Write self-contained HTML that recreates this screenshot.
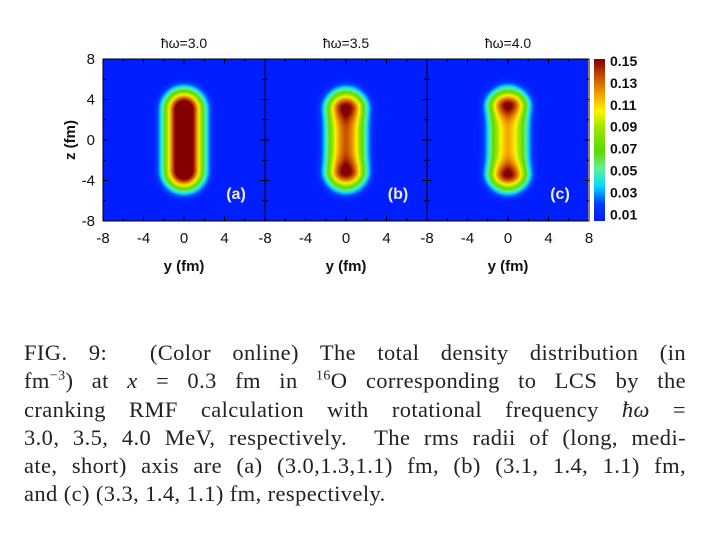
<!DOCTYPE html>
<html><head><meta charset="utf-8"><style>
html,body{margin:0;padding:0;background:#fff;width:720px;height:540px;overflow:hidden;position:relative}
svg{position:absolute;left:0;top:0}
canvas{position:absolute}
.cap{position:absolute;left:24px;width:662px;font-family:"Liberation Serif",serif;font-size:22.5px;letter-spacing:0.4px;color:#222;line-height:28.3px;top:339px}
.cap div{text-align:justify;text-align-last:justify;white-space:nowrap;height:28.3px}
.cap div.last{text-align-last:left}
</style></head><body>
<canvas id="cv0" width="162" height="162" style="left:103px;top:59px"></canvas>
<canvas id="cv1" width="162" height="162" style="left:265px;top:59px"></canvas>
<canvas id="cv2" width="161" height="162" style="left:427px;top:59px"></canvas>
<canvas id="cbar" width="11" height="162" style="left:594px;top:59px"></canvas>
<svg id="svg" width="720" height="540"></svg>
<div class="cap">
<div>FIG. 9: &nbsp;(Color online) The total density distribution (in</div>
<div>fm<sup style="font-size:14px;line-height:0">−3</sup>) at <i>x</i> = 0.3 fm in <sup style="font-size:14px;line-height:0">16</sup>O corresponding to LCS by the</div>
<div>cranking RMF calculation with rotational frequency <i>ħω</i> =</div>
<div>3.0, 3.5, 4.0 MeV, respectively. &nbsp;The rms radii of (long, medi-</div>
<div>ate, short) axis are (a) (3.0,1.3,1.1) fm, (b) (3.1, 1.4, 1.1) fm,</div>
<div class="last">and (c) (3.3, 1.4, 1.1) fm, respectively.</div>
</div>
<script>
// panel data
const panelLabels = ["(a)","(b)","(c)"];
const panelTitles = ["ħω=3.0","ħω=3.5","ħω=4.0"];
// density model parameters per panel (fm^-3 and fm)
const baseAmp = [0.19, 0.142, 0.125];
const bumpAmp = [0.0, 0.026, 0.04];
const bumpZ = [3.0, 3.2, 3.5];
const halfLength = [3.0, 3.1, 3.3];
const coreRadius = [1.6, 1.6, 1.6];
const xTicks = [-8,-4,0,4,8];
const yTicks = [-8,-4,0,4,8];
const cbTicks = [0.15,0.13,0.11,0.09,0.07,0.05,0.03,0.01];
const cStops = [[0.01,[0,30,255]],[0.025,[0,60,255]],[0.04,[0,220,255]],[0.055,[100,240,150]],[0.07,[90,220,0]],[0.09,[150,230,0]],[0.105,[255,245,0]],[0.12,[240,160,0]],[0.135,[200,80,0]],[0.15,[130,0,0]]];
function cmap(v){
  if(v<=cStops[0][0])return cStops[0][1];
  for(let i=1;i<cStops.length;i++){if(v<=cStops[i][0]){const a=cStops[i-1],b=cStops[i];const t=(v-a[0])/(b[0]-a[0]);return a[1].map((c,k)=>Math.round(c+(b[1][k]-c)*t));}}
  return cStops[cStops.length-1][1];
}
const W=162,H=162,DIFF=0.55;
const xs=v=>(v+8)/16*W, zs=v=>H-(v+8)/16*H;
function dens(p,y,z){
  const dz=Math.max(Math.abs(z)-halfLength[p],0);
  const d=Math.sqrt(dz*dz+y*y);
  const amp=baseAmp[p]+bumpAmp[p]*(Math.exp(-((z-bumpZ[p])**2)/1.5)+Math.exp(-((z+bumpZ[p])**2)/1.5));
  return amp/(1+Math.exp((d-coreRadius[p])/DIFF));
}
for(let p=0;p<3;p++){
  const cv=document.getElementById('cv'+p),ctx=cv.getContext('2d');
  const w=cv.width,img=ctx.createImageData(w,H);
  for(let j=0;j<H;j++)for(let i=0;i<w;i++){
    const y=(i+0.5)/W*16-8, z=8-(j+0.5)/H*16;
    const c=cmap(dens(p,y,z)),o=(j*w+i)*4;img.data[o]=c[0];img.data[o+1]=c[1];img.data[o+2]=c[2];img.data[o+3]=255;
  }
  ctx.putImageData(img,0,0);
}
{const cv=document.getElementById('cbar'),ctx=cv.getContext('2d');
for(let j=0;j<H;j++){const v=0.15-(j/(H-1))*0.14;const c=cmap(v);ctx.fillStyle=`rgb(${c})`;ctx.fillRect(0,j,11,1);}}
const svg=document.getElementById('svg'),NS='http://www.w3.org/2000/svg';
function el(t,a,txt){const e=document.createElementNS(NS,t);for(const k in a)e.setAttribute(k,a[k]);if(txt!=null)e.textContent=txt;svg.appendChild(e);return e;}
const lefts=[103,265,427],TOP=59;
for(let p=0;p<3;p++){
  const L=lefts[p];
  const fr=el('rect',{x:L,y:TOP,width:W,height:H,fill:'none',stroke:'#000','stroke-width':1});
  
  
  for(let t=-6;t<=6;t+=2){
    const len=(t%4===0)?5:3;
    const X=L+xs(t),Y=TOP+zs(t);
    el('line',{x1:X,y1:TOP+H,x2:X,y2:TOP+H-len,stroke:'#000'});
    el('line',{x1:X,y1:TOP,x2:X,y2:TOP+len,stroke:'#000'});
    el('line',{x1:L,y1:Y,x2:L+len,y2:Y,stroke:'#000'});
    el('line',{x1:L+W,y1:Y,x2:L+W-len,y2:Y,stroke:'#000'});
  }
  xTicks.forEach((t,i)=>{if(p<2&&i===4)return;
    const tx=el('text',{x:L+xs(t),y:TOP+H+22,'text-anchor':'middle','font-family':'Liberation Sans,sans-serif','font-size':15,fill:'#111'},String(t));
    
    });
  const xt=el('text',{x:L+81,y:TOP+H+50,'text-anchor':'middle','font-family':'Liberation Sans,sans-serif','font-size':15,'font-weight':'bold',fill:'#111'},'y (fm)');
  
  
  const ti=el('text',{x:L+81,y:48,'text-anchor':'middle','font-family':'Liberation Sans,DejaVu Sans,sans-serif','font-size':14,fill:'#111'},panelTitles[p]);
  
  
  const pl=el('text',{x:L+133,y:TOP+H-22,'text-anchor':'middle','font-family':'Liberation Sans,sans-serif','font-size':16,'font-weight':'bold',fill:'#e8ecff'},panelLabels[p]);
  
  
}
yTicks.forEach(t=>{const ty=el('text',{x:95,y:TOP+zs(t)+5,'text-anchor':'end','font-family':'Liberation Sans,sans-serif','font-size':15,fill:'#111'},String(t));
  
  });
const yt=el('text',{x:75,y:140,'text-anchor':'middle','font-family':'Liberation Sans,sans-serif','font-size':15,'font-weight':'bold',fill:'#111',transform:'rotate(-90 75 140)'},'z (fm)');


cbTicks.forEach((t,i)=>{const ct=el('text',{x:610,y:66+i*21.9,'font-family':'Liberation Sans,sans-serif','font-size':14,'font-weight':'bold',fill:'#111'},t.toFixed(2));
  
  });
</script>
</body></html>
